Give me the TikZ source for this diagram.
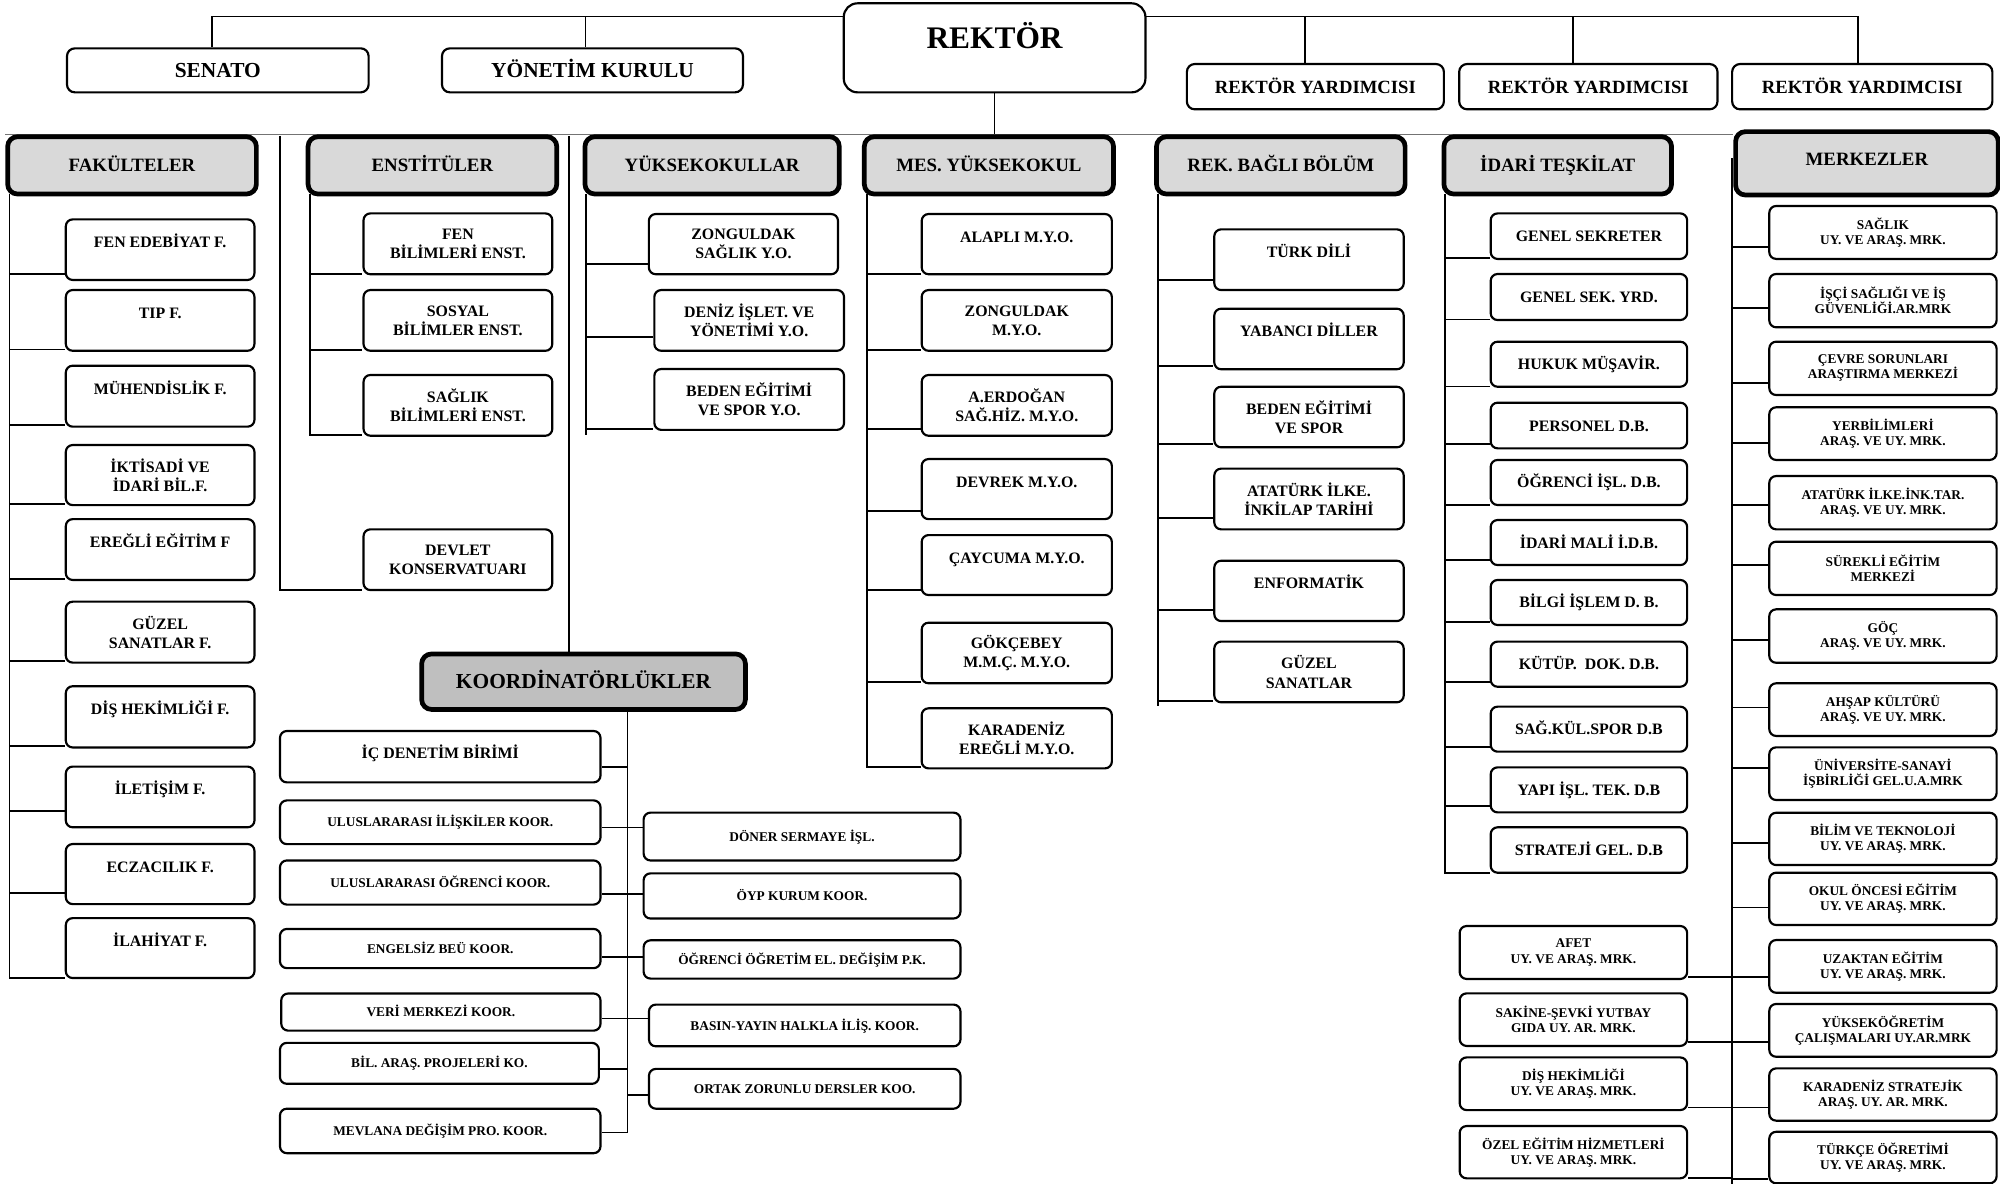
\documentclass[tikz,border=0pt]{standalone}
\usepackage{fontspec}
\setmainfont{Liberation Serif}
\usetikzlibrary{calc}
\definecolor{hdr}{RGB}{217,217,217}
\definecolor{kdr}{RGB}{191,191,191}
\pgfdeclarelayer{bg}
\pgfsetlayers{bg,main}
\newcommand\mybox[7]{\node[#1, minimum width={(#4-#3)*0.65pt}, minimum height={(#6-#5)*0.65pt}] (#2) at ({(#3+#4)/2},{(#5+#6)/2}) {#7};}
\begin{document}
\begin{tikzpicture}[x=0.65pt,y=-0.65pt,
 base/.style={draw, fill=white, line width=1.1pt, rounded corners=3.5pt, align=center, inner sep=1pt},
 cbx/.style={base, font=\fontsize{8.1}{9.7}\selectfont\bfseries},
 cup/.style={cbx, text height=5.6pt, text depth=7.65pt},
 cmid/.style={cbx, text height=5.6pt, text depth=0pt},
 sbx/.style={base, font=\fontsize{6.8}{7.7}\selectfont\bfseries},
 smid/.style={sbx, text height=4.7pt, text depth=0pt},
 hbx/.style={draw, fill=hdr, line width=2.4pt, rounded corners=5pt, inner sep=1pt, font=\fontsize{9.6}{11}\selectfont\bfseries, text height=6.6pt, text depth=0pt},
 mhi/.style={text depth=4.2pt},
 kbx/.style={hbx, fill=kdr, font=\fontsize{10.9}{12}\selectfont\bfseries, text height=7.4pt},
 topb/.style={base, rounded corners=4pt, font=\fontsize{10.9}{12}\selectfont\bfseries, text height=7.4pt, text depth=0pt},
 ryb/.style={base, rounded corners=4pt, font=\fontsize{9.5}{11}\selectfont\bfseries, text height=6.5pt, text depth=0pt},
 rekb/.style={base, rounded corners=7pt, font=\fontsize{16}{18}\selectfont\bfseries, text height=10.8pt, text depth=10pt},
 conn/.style={line width=0.9pt},
 hline/.style={line width=0.7pt, black!55}]
\useasboundingbox (0,0) rectangle (1568,928);
% top
\mybox{topb}{sen}{52.5}{289}{37.9}{72.4}{SENATO}
\mybox{topb}{yon}{346.5}{582.5}{37.9}{72.4}{YÖNETİM KURULU}
\mybox{rekb}{rek}{661.5}{898}{2.6}{72.4}{REKTÖR}
\mybox{ryb}{ry1}{930.5}{1132}{50.2}{85.7}{REKTÖR YARDIMCISI}
\mybox{ryb}{ry2}{1144}{1346.5}{50.2}{85.7}{REKTÖR YARDIMCISI}
\mybox{ryb}{ry3}{1358}{1562}{50.2}{85.7}{REKTÖR YARDIMCISI}
% headers
\mybox{hbx}{fak}{6}{201}{107.2}{152.1}{FAKÜLTELER}
\mybox{hbx}{ens}{241.5}{436.5}{107.2}{152.1}{ENSTİTÜLER}
\mybox{hbx}{yuk}{458.6}{658}{107.2}{152.1}{YÜKSEKOKULLAR}
\mybox{hbx}{mes}{677.6}{873}{107.2}{152.1}{MES. YÜKSEKOKUL}
\mybox{hbx}{rkb}{906.7}{1101.6}{107.2}{152.1}{REK. BAĞLI BÖLÜM}
\mybox{hbx}{ida}{1132}{1310.5}{107.2}{152.1}{İDARİ TEŞKİLAT}
\mybox{hbx,mhi}{mrk}{1360.7}{1566.6}{103.2}{152.9}{MERKEZLER}
\mybox{kbx}{koo}{330.6}{584.4}{512.7}{556.2}{KOORDİNATÖRLÜKLER}
% fakulteler
\mybox{cup}{f1}{51.6}{199.5}{172}{219.5}{FEN EDEBİYAT F.}
\mybox{cup}{f2}{51.6}{199.5}{227.4}{275}{TIP F.}
\mybox{cup}{f3}{51.6}{199.5}{286.7}{334.5}{MÜHENDİSLİK F.}
\mybox{cbx}{f4}{51.6}{199.5}{348.9}{396}{İKTİSADİ VE\\İDARİ BİL.F.}
\mybox{cup}{f5}{51.6}{199.5}{407}{454.7}{EREĞLİ EĞİTİM F}
\mybox{cbx}{f6}{51.6}{199.5}{471.7}{519.5}{GÜZEL\\SANATLAR F.}
\mybox{cup}{f7}{51.6}{199.5}{538}{586}{DİŞ HEKİMLİĞİ F.}
\mybox{cup}{f8}{51.6}{199.5}{601}{648.6}{İLETİŞİM F.}
\mybox{cup}{f9}{51.6}{199.5}{661.7}{708.8}{ECZACILIK F.}
\mybox{cup}{f10}{51.6}{199.5}{719.8}{766.8}{İLAHİYAT F.}
% enstituler
\mybox{cbx}{e1}{285}{433}{167.3}{215}{FEN\\BİLİMLERİ ENST.}
\mybox{cbx}{e2}{285}{433}{227.4}{275}{SOSYAL\\BİLİMLER ENST.}
\mybox{cbx}{e3}{285}{433}{294}{341.6}{SAĞLIK\\BİLİMLERİ ENST.}
\mybox{cbx}{e4}{285}{433}{415}{462.6}{DEVLET\\KONSERVATUARI}
% yuksekokullar
\mybox{cbx}{y1}{508.7}{657}{167.8}{215}{ZONGULDAK\\SAĞLIK Y.O.}
\mybox{cbx}{y2}{513}{661.7}{227.4}{275}{DENİZ İŞLET. VE\\YÖNETİMİ Y.O.}
\mybox{cbx}{y3}{513}{661.7}{289.3}{337}{BEDEN EĞİTİMİ\\VE SPOR Y.O.}
% meslek yuksekokul
\mybox{cup}{m1}{722.6}{871.7}{167.8}{215}{ALAPLI M.Y.O.}
\mybox{cbx}{m2}{722.6}{871.7}{227.4}{275}{ZONGULDAK\\M.Y.O.}
\mybox{cbx}{m3}{722.6}{871.7}{294}{341.6}{A.ERDOĞAN\\SAĞ.HİZ. M.Y.O.}
\mybox{cup}{m4}{722.6}{871.7}{359.9}{407}{DEVREK M.Y.O.}
\mybox{cup}{m5}{722.6}{871.7}{419.5}{466.5}{ÇAYCUMA M.Y.O.}
\mybox{cbx}{m6}{722.6}{871.7}{488.2}{535.7}{GÖKÇEBEY\\M.M.Ç. M.Y.O.}
\mybox{cbx}{m7}{722.6}{871.7}{555.3}{602.4}{KARADENİZ\\EREĞLİ M.Y.O.}
% rek bagli
\mybox{cup}{r1}{952}{1100.5}{179.8}{227.4}{TÜRK DİLİ}
\mybox{cup}{r2}{952}{1100.5}{242}{289.5}{YABANCI DİLLER}
\mybox{cbx}{r3}{952}{1100.5}{303.2}{350.7}{BEDEN EĞİTİMİ\\VE SPOR}
\mybox{cbx}{r4}{952}{1100.5}{367.4}{415}{ATATÜRK İLKE.\\İNKİLAP TARİHİ}
\mybox{cup}{r5}{952}{1100.5}{439.6}{486.9}{ENFORMATİK}
\mybox{cbx}{r6}{952}{1100.5}{503}{550.6}{GÜZEL\\SANATLAR}
% idari
\mybox{cmid}{i1}{1168.7}{1322.7}{167.3}{203}{GENEL SEKRETER}
\mybox{cmid}{i2}{1168.7}{1322.7}{214.8}{250.9}{GENEL SEK. YRD.}
\mybox{cmid}{i3}{1168.7}{1322.7}{267.9}{303.2}{HUKUK MÜŞAVİR.}
\mybox{cmid}{i4}{1168.7}{1322.7}{315.7}{351.5}{PERSONEL D.B.}
\mybox{cmid}{i5}{1168.7}{1322.7}{360.6}{395.9}{ÖĞRENCİ İŞL. D.B.}
\mybox{cmid}{i6}{1168.7}{1322.7}{407.7}{443}{İDARİ MALİ İ.D.B.}
\mybox{cmid}{i7}{1168.7}{1322.7}{454.7}{490}{BİLGİ İŞLEM D. B.}
\mybox{cmid}{i8}{1168.7}{1322.7}{503}{538.4}{KÜTÜP.~~DOK. D.B.}
\mybox{cmid}{i9}{1168.7}{1322.7}{554}{589.3}{SAĞ.KÜL.SPOR D.B}
\mybox{cmid}{i10}{1168.7}{1322.7}{601.6}{636.9}{YAPI İŞL. TEK. D.B}
\mybox{cmid}{i11}{1168.7}{1322.7}{648.6}{684.2}{STRATEJİ GEL. D.B}
% merkezler
\mybox{sbx}{k1}{1387.1}{1565.3}{161.5}{203}{SAĞLIK\\UY. VE ARAŞ. MRK.}
\mybox{sbx}{k2}{1387.1}{1565.3}{214.8}{256.6}{İŞÇİ SAĞLIĞI VE İŞ\\GÜVENLİĞİ.AR.MRK}
\mybox{sbx}{k3}{1387.1}{1565.3}{267.9}{309.7}{ÇEVRE SORUNLARI\\ARAŞTIRMA MERKEZİ}
\mybox{sbx}{k4}{1387.1}{1565.3}{319.3}{360.6}{YERBİLİMLERİ\\ARAŞ. VE UY. MRK.}
\mybox{sbx}{k5}{1387.1}{1565.3}{373.2}{415}{ATATÜRK İLKE.İNK.TAR.\\ARAŞ. VE UY. MRK.}
\mybox{sbx}{k6}{1387.1}{1565.3}{424.7}{466.5}{SÜREKLİ EĞİTİM\\MERKEZİ}
\mybox{sbx}{k7}{1387.1}{1565.3}{477.7}{519.6}{GÖÇ\\ARAŞ. VE UY. MRK.}
\mybox{sbx}{k8}{1387.1}{1565.3}{535.7}{577}{AHŞAP KÜLTÜRÜ\\ARAŞ. VE UY. MRK.}
\mybox{sbx}{k9}{1387.1}{1565.3}{585.9}{627.2}{ÜNİVERSİTE-SANAYİ\\İŞBİRLİĞİ GEL.U.A.MRK}
\mybox{sbx}{k10}{1387.1}{1565.3}{637.2}{678.2}{BİLİM VE TEKNOLOJİ\\UY. VE ARAŞ. MRK.}
\mybox{sbx}{k11}{1387.1}{1565.3}{684.2}{725.2}{OKUL ÖNCESİ EĞİTİM\\UY. VE ARAŞ. MRK.}
\mybox{sbx}{k12}{1387.1}{1565.3}{737}{778.3}{UZAKTAN EĞİTİM\\UY. VE ARAŞ. MRK.}
\mybox{sbx}{k13}{1387.1}{1565.3}{787.1}{828.5}{YÜKSEKÖĞRETİM\\ÇALIŞMALARI UY.AR.MRK}
\mybox{sbx}{k14}{1387.1}{1565.3}{837.6}{878.6}{KARADENİZ STRATEJİK\\ARAŞ. UY. AR. MRK.}
\mybox{sbx}{k15}{1387.1}{1565.3}{887.3}{927.7}{TÜRKÇE ÖĞRETİMİ\\UY. VE ARAŞ. MRK.}
\mybox{sbx}{a1}{1144.4}{1322.7}{726}{767.5}{AFET\\UY. VE ARAŞ. MRK.}
\mybox{sbx}{a2}{1144.4}{1322.7}{778.8}{820}{SAKİNE-ŞEVKİ YUTBAY\\GIDA UY. AR. MRK.}
\mybox{sbx}{a3}{1144.4}{1322.7}{829}{870.3}{DİŞ HEKİMLİĞİ\\UY. VE ARAŞ. MRK.}
\mybox{sbx}{a4}{1144.4}{1322.7}{882.8}{923.8}{ÖZEL EĞİTİM HİZMETLERİ\\UY. VE ARAŞ. MRK.}
% koordinatorlukler
\mybox{cbx,text height=5.6pt,text depth=4.2pt}{c1}{219.5}{470.8}{573.1}{613.4}{İÇ DENETİM BİRİMİ}
\mybox{smid}{c2}{219.5}{470.8}{627.5}{661.8}{ULUSLARARASI İLİŞKİLER KOOR.}
\mybox{smid}{c3}{219.5}{470.8}{674.6}{709.2}{ULUSLARARASI ÖĞRENCİ KOOR.}
\mybox{smid}{c4}{219.5}{470.8}{728.3}{759}{ENGELSİZ BEÜ KOOR.}
\mybox{smid}{c5}{220.5}{470.8}{778.9}{808}{VERİ MERKEZİ KOOR.}
\mybox{smid}{c6}{219.5}{469.5}{817.6}{849.7}{BİL. ARAŞ. PROJELERİ KO.}
\mybox{smid}{c7}{219.5}{470.8}{869.2}{904.1}{MEVLANA DEĞİŞİM PRO. KOOR.}
\mybox{smid}{d1}{504.6}{753}{637.1}{674.6}{DÖNER SERMAYE İŞL.}
\mybox{smid}{d2}{504.6}{753}{684.7}{720.1}{ÖYP KURUM KOOR.}
\mybox{smid}{d3}{504.6}{753}{737.2}{767.2}{ÖĞRENCİ ÖĞRETİM EL. DEĞİŞİM P.K.}
\mybox{smid}{d4}{508.8}{753}{787.6}{820.3}{BASIN-YAYIN HALKLA İLİŞ. KOOR.}
\mybox{smid}{d5}{508.8}{753}{838}{869.2}{ORTAK ZORUNLU DERSLER KOO.}
% junction coordinates
\coordinate (tl) at (166,13);
\coordinate (tr) at (1456.5,13);
\coordinate (j1) at (459,13);
\coordinate (j2) at (1023,13);
\coordinate (j3) at (1233,13);
\coordinate (fT) at (7.5,152.1);
\coordinate (eT) at (243,152.1);
\coordinate (s1) at (219.6,106.6);
\coordinate (s2) at (446,106.6);
\coordinate (yT) at (459.5,152.1);
\coordinate (yB) at (459.5,341);
\coordinate (mT) at (680,152.1);
\coordinate (rT) at (908,152.1);
\coordinate (rB) at (908,553.3);
\coordinate (iT) at (1133,152.1);
\coordinate (kT) at (1358,124);
\coordinate (kB) at (1358,930);
\coordinate (oT) at (492,556.2);
\begin{pgfonlayer}{bg}
\draw[conn] (sen.north -| tl) -- (tl) -- (tr) -- (ry3.north -| tr);
\draw[conn] (j1) -- (yon.north -| j1);
\draw[conn] (j2) -- (ry1.north -| j2);
\draw[conn] (j3) -- (ry2.north -| j3);
\draw[hline] (fak.north west) -- (mrk.west |- fak.north);
\draw[conn] (rek.south) -- (rek.south |- fak.north);
\foreach \n/\c in {f1/215,f2/274,f3/333,f4/395,f5/454,f6/518.5,f7/585,f8/636,f9/700,f10/766.8}
  \draw[conn] (fT) |- (\n.west |- 0,\c);
\foreach \n/\c in {e1/215,e2/274.4,e3/341}
  \draw[conn] (eT) |- (\n.west |- 0,\c);
\draw[conn] (s1) |- (e4.west |- 0,462.6);
\draw[conn] (s2) -- (koo.north -| s2);
\draw[conn] (yT) -- (yB);
\foreach \n/\c in {y1/207,y2/264.5,y3/336.6}
  \draw[conn] (yT) |- (\n.west |- 0,\c);
\foreach \n/\c in {m1/214.8,m2/274.4,m3/336.6,m4/400.4,m5/462.6,m6/534.4,m7/601.6}
  \draw[conn] (mT) |- (\n.west |- 0,\c);
\draw[conn] (rT) -- (rB);
\foreach \n/\c in {r1/219.5,r2/287,r3/348.1,r4/406.4,r5/478.2,r6/549.3}
  \draw[conn] (rT) |- (\n.west |- 0,\c);
\foreach \n/\c in {i1/202.5,i2/250.4,i3/303,i4/348.1,i5/396,i6/439,i7/487.4,i8/534.4,i9/585.4,i10/631.9,i11/684.2}
  \draw[conn] (iT) |- (\n.west |- 0,\c);
\draw[conn] (kT) -- (kB);
\foreach \n/\c in {k1/193.9,k2/241.7,k3/300,k4/347.6,k5/396,k6/443,k7/501.8,k8/554.6,k9/602.4,k10/661.2,k11/711.4,k12/766.2,k13/816.7,k14/868.2,k15/924.6}
  \draw[conn] (kT) |- (\n.west |- 0,\c);
\foreach \n/\c in {a1/766.2,a2/816.7,a3/868.2,a4/923.8}
  \draw[conn] (\n.east |- 0,\c) -- (kT |- 0,\c);
\foreach \n/\c in {c1/601.1,c2/648.8,c3/701,c4/750,c5/798.5,c6/837.9,c7/887.8}
  \draw[conn] (oT) |- (\n.east |- 0,\c);
\foreach \n/\c in {d1/648.8,d2/701,d3/750,d4/798.5,d5/858.4}
  \draw[conn] (oT) |- (\n.west |- 0,\c);
\end{pgfonlayer}
\end{tikzpicture}
\end{document}
